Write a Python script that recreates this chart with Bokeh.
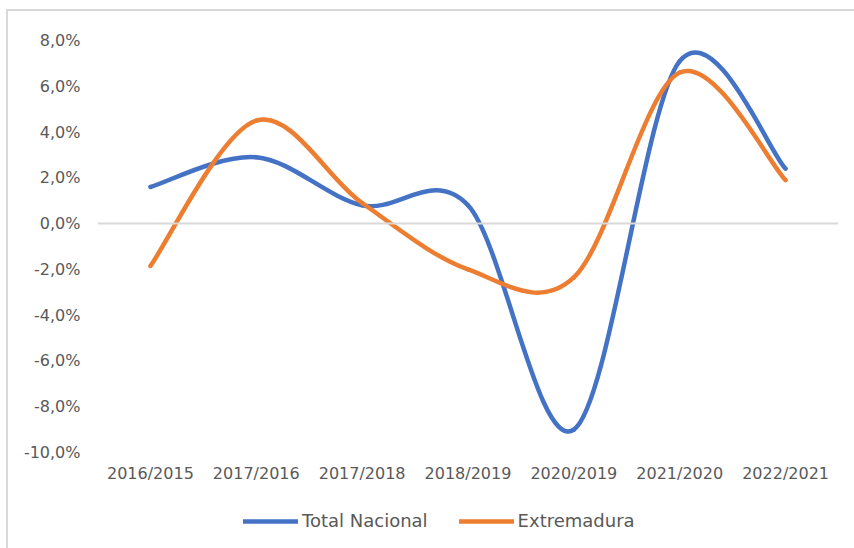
from bokeh.plotting import figure
from bokeh.layouts import column
from bokeh.models import (Range1d, FixedTicker, Span, Legend, LegendItem, ColumnDataSource)
from bokeh.embed import file_html
from bokeh.resources import INLINE

# ---- data ----
categories = ["2016/2015", "2017/2016", "2017/2018", "2018/2019", "2020/2019", "2021/2020", "2022/2021"]
total_nacional = [1.6, 2.9, 0.8, 0.8, -9.0, 7.1, 2.4]
extremadura = [-1.85, 4.5, 0.9, -2.0, -2.35, 6.6, 1.9]
y_ticks = [-10, -8, -6, -4, -2, 0, 2, 4, 6, 8]
y_tick_labels = ["-10,0%", "-8,0%", "-6,0%", "-4,0%", "-2,0%", "0,0%", "2,0%", "4,0%", "6,0%", "8,0%"]

BLUE = "#4472C4"
ORANGE = "#ED7D31"
TEXT = "#595959"
FONT = "DejaVu Sans"
BORDER = "#d9d9d9"

W = 854
H_MAIN, H_LEG = 492, 56

p = figure(width=W, height=H_MAIN, output_backend="svg", toolbar_location=None,
           x_range=Range1d(-0.5, len(categories) - 0.5), y_range=Range1d(-10, 8),
           min_border_left=97, min_border_right=16, min_border_top=40, min_border_bottom=40)
p.outline_line_color = None
p.xgrid.visible = False
p.ygrid.visible = False
p.border_fill_alpha = 0
p.styles = {
    "background": f"linear-gradient({BORDER},{BORDER}) 6px 9px / 2px 100% no-repeat, "
                  f"linear-gradient({BORDER},{BORDER}) 6px 9px / 100% 2px no-repeat"
}

# axes
p.xaxis.ticker = FixedTicker(ticks=list(range(len(categories))))
p.xaxis.major_label_overrides = {i: c for i, c in enumerate(categories)}
p.yaxis.ticker = FixedTicker(ticks=y_ticks)
p.yaxis.major_label_overrides = dict(zip(y_ticks, y_tick_labels))
for ax in (p.xaxis[0], p.yaxis[0]):
    ax.axis_line_color = None
    ax.major_tick_line_color = None
    ax.minor_tick_line_color = None
    ax.major_tick_out = 0
    ax.major_tick_in = 0
    ax.major_label_text_font = FONT
    ax.major_label_text_font_size = "16px"
    ax.major_label_text_color = TEXT
p.xaxis.major_label_standoff = 11
p.yaxis.major_label_standoff = 17

p.add_layout(Span(location=0, dimension="width", line_color=BORDER, line_width=2))


def smooth_segments(vals):
    n = len(vals)
    xs = list(range(n))
    d = dict(x0=[], y0=[], x1=[], y1=[], cx0=[], cy0=[], cx1=[], cy1=[])
    for i in range(n - 1):
        a, b = max(i - 1, 0), min(i + 2, n - 1)
        d["x0"].append(xs[i]); d["y0"].append(vals[i])
        d["x1"].append(xs[i + 1]); d["y1"].append(vals[i + 1])
        d["cx0"].append(xs[i] + (xs[i + 1] - xs[a]) / 6)
        d["cy0"].append(vals[i] + (vals[i + 1] - vals[a]) / 6)
        d["cx1"].append(xs[i + 1] - (xs[b] - xs[i]) / 6)
        d["cy1"].append(vals[i + 1] - (vals[b] - vals[i]) / 6)
    return ColumnDataSource(d)


# legend strip below the chart (its frame is aligned with the chart's frame)
q = figure(width=W, height=H_LEG, output_backend="svg", toolbar_location=None,
           x_range=Range1d(100, 101), y_range=Range1d(100, 101),
           x_axis_location=None, y_axis_location=None, min_border=0)
q.outline_line_color = None
q.xgrid.visible = False
q.ygrid.visible = False
q.border_fill_alpha = 0
q.background_fill_alpha = 0
q.styles = {"background": f"linear-gradient({BORDER},{BORDER}) 6px 0 / 2px 100% no-repeat"}

items = []
for vals, col, name in ((total_nacional, BLUE, "Total Nacional"), (extremadura, ORANGE, "Extremadura")):
    src = smooth_segments(vals)
    p.bezier(x0="x0", y0="y0", x1="x1", y1="y1", cx0="cx0", cy0="cy0", cx1="cx1", cy1="cy1",
             source=src, line_color=col, line_width=4.5, line_cap="round")
    # legend proxy: same series, lying outside the legend strip's visible ranges
    proxy = q.line(x=list(range(len(vals))), y=vals, line_color=col, line_width=4.5, line_cap="round")
    items.append(LegendItem(label=name, renderers=[proxy]))

legend = Legend(items=items, orientation="horizontal", location=(146, 17),
                glyph_width=55, glyph_height=20, label_standoff=4, spacing=31,
                padding=0, margin=0, border_line_color=None, background_fill_alpha=0,
                label_text_font=FONT, label_text_font_size="18px", label_text_color=TEXT)
q.add_layout(legend, "center")

layout = column(p, q, spacing=0)
open("out.html", "w").write(file_html(layout, INLINE))
